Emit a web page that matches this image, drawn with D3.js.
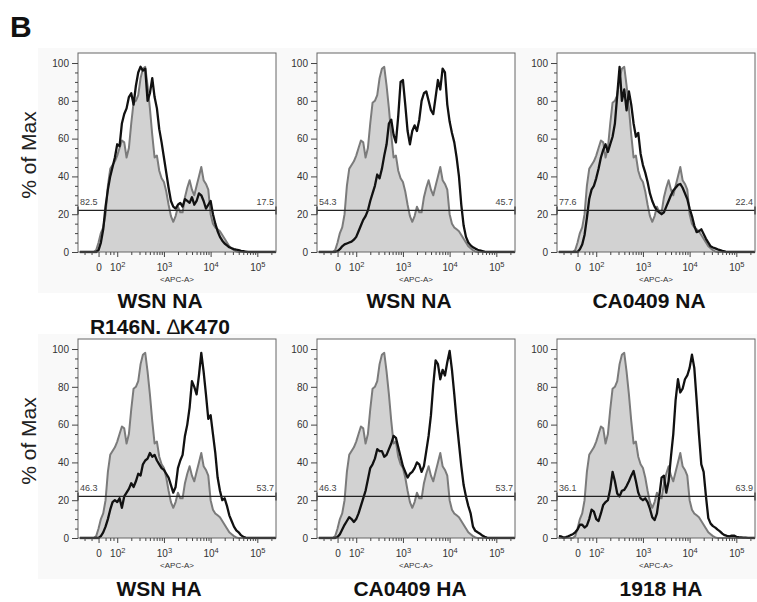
<!DOCTYPE html>
<html>
<head>
<meta charset="utf-8">
<script src="https://cdn.jsdelivr.net/npm/d3@7"></script>
<style>
  body { margin: 0; background: #fff; }
  text { font-family: "Liberation Sans", Arial, sans-serif; }
</style>
</head>
<body>
<div id="chart"></div>
<script>
// APC-A position on the biexponential display, in decades (1.6 = 0, 2 = 10^2, 3 = 10^3 ...)
const channels = [
  1.2, 1.25, 1.3, 1.35, 1.4, 1.45, 1.5, 1.55, 1.6, 1.65,
  1.7, 1.75, 1.8, 1.85, 1.9, 1.95, 2, 2.05, 2.1, 2.15,
  2.2, 2.25, 2.3, 2.35, 2.4, 2.45, 2.5, 2.55, 2.6, 2.65,
  2.7, 2.75, 2.8, 2.85, 2.9, 2.95, 3, 3.05, 3.1, 3.15,
  3.2, 3.25, 3.3, 3.35, 3.4, 3.45, 3.5, 3.55, 3.6, 3.65,
  3.7, 3.75, 3.8, 3.85, 3.9, 3.95, 4, 4.05, 4.1, 4.15,
  4.2, 4.25, 4.3, 4.35, 4.4, 4.45, 4.5, 4.55, 4.6, 4.65,
  4.7, 4.75, 4.8, 4.85, 4.9, 4.95, 5, 5.05, 5.1, 5.15,
  5.2, 5.25, 5.3, 5.35, 5.4
];

// % of max, control (grey filled) - same in every panel
const control = [
  0, 0, 0, 0, 0, 0, 0, 1, 5, 10,
  13, 20, 35, 44, 46, 48, 51, 55, 59, 58,
  50, 55, 68, 79, 80, 83, 92, 97, 98, 88,
  76, 62, 50, 51, 43, 39, 37, 32, 25, 19,
  16, 19, 24, 21, 21, 29, 34, 38, 33, 30,
  35, 40, 45, 38, 36, 33, 20, 15, 13, 12,
  11, 9, 7, 5, 3, 2, 1, 0.3, 0, 0,
  0, 0, 0, 0, 0, 0, 0, 0, 0, 0,
  0, 0, 0, 0, 0
];

const wsnNaMutant = [
  0, 0, 0, 0, 0, 0, 0, 0, 1, 5,
  12, 24, 33, 40, 45, 50, 57, 56, 68, 73,
  76, 82, 84, 78, 88, 95, 98, 96, 97, 80,
  84, 92, 82, 76, 65, 58, 50, 42, 34, 27,
  24, 23, 25, 26, 24, 28, 27, 26, 29, 25,
  27, 31, 30, 27, 23, 25, 27, 20, 15, 11,
  8, 6, 4.5, 3.5, 2.5, 2, 1.5, 1.2, 1, 0.6,
  0.4, 0.2, 0, 0, 0, 0, 0, 0, 0, 0,
  0, 0, 0, 0, 0
];

const wsnNa = [
  0, 0, 0, 0, 0, 0, 0, 0, 0.5, 1.5,
  3, 4, 4.5, 5, 5.5, 6.5, 8, 11, 14, 17,
  19, 22, 27, 31, 35, 41, 39, 44, 51, 57,
  68, 70, 62, 58, 72, 90, 91, 78, 64, 57,
  64, 67, 64, 70, 80, 84, 85, 80, 75, 73,
  82, 91, 86, 97, 95, 78, 69, 63, 58, 50,
  40, 25, 14, 8, 5, 3.5, 2.5, 1.8, 1.2, 0.8,
  0.5, 0.2, 0, 0, 0, 0, 0, 0, 0, 0,
  0, 0, 0, 0, 0
];

const ca0409Na = [
  0, 0, 0, 0, 0, 0, 0, 0, 0, 1.5,
  4, 9, 18, 28, 33, 35, 39, 44, 50, 54,
  57, 53, 57, 61, 68, 83, 98, 80, 86, 75,
  85, 78, 68, 61, 63, 52, 46, 42, 37, 31,
  27, 24, 22, 21, 20, 21, 24, 27, 30, 32.5,
  34, 35.5, 36, 34, 31, 28, 23, 19, 14, 10.5,
  11, 12, 9.5, 7, 5, 3, 2.4, 1.9, 1.4, 1,
  0.6, 0.3, 0, 0, 0, 0, 0, 0, 0, 0,
  0, 0, 0, 0, 0
];

const wsnHa = [
  0, 0, 0, 0, 0, 0, 0, 0, 0, 1,
  3, 6, 10, 15, 19, 20, 19, 21, 16, 22,
  24, 26, 29, 27, 30, 34, 33, 39, 41, 42,
  45, 43, 44, 41, 39, 37, 36, 34, 32, 28,
  24, 27, 37, 41, 44, 54, 60, 69, 83, 80,
  76, 86, 98, 88, 76, 63, 65, 55, 45, 32,
  25, 20, 21, 17, 12, 9, 6, 4, 3, 1.5,
  0.6, 0.2, 0, 0, 0, 0, 0, 0, 0, 0,
  0, 0, 0, 0, 0
];

const ca0409Ha = [
  0, 0, 0, 0, 0, 0, 0, 0, 0.5, 2,
  4.5, 7, 9, 11, 10, 8.5, 10, 13, 17, 21,
  25, 31, 37, 39, 42, 47, 46, 46, 43, 44,
  47, 50, 54, 53, 48, 43, 38, 35, 32, 34,
  35, 37, 40, 39, 35, 38, 46, 54, 65, 81,
  94, 92, 84, 89, 86, 93, 99, 89, 76, 62,
  50, 38, 28, 22, 17, 13, 6, 3.8, 3, 2.3,
  1.3, 0.6, 0.2, 0, 0, 0, 0, 0, 0, 0,
  0, 0, 0, 0, 0
];

const ha1918 = [
  1, 0.8, 0.2, 0.5, 0.9, 1.5, 2, 3, 4.5, 7,
  7, 5.5, 6.5, 10, 15, 14, 10, 9, 13, 17.5,
  19, 20, 26, 35, 30, 23.5, 22, 25, 25.5, 27.5,
  30, 33, 35.5, 30, 24, 21, 20, 21, 19, 15.5,
  11, 9.5, 13, 22, 32, 33, 24, 30, 43, 55,
  73, 84, 77, 79, 84, 86, 90, 97, 90, 73,
  55, 39, 35, 22, 10.5, 7.6, 6.3, 5.5, 4.4, 3.5,
  2.3, 1.5, 1.1, 0.9, 1.2, 1.3, 0.6, 0.4, 0.3, 0.2,
  0.2, 0.1, 0.1, 0, 0
];

const samples = [wsnNaMutant, wsnNa, ca0409Na, wsnHa, ca0409Ha, ha1918];
// second line of the first title has a thin delta, drawn in regular weight
const titles = [['WSN NA', ['R146N, ', '\u2206', 'K470']], ['WSN NA'], ['CA0409 NA'], ['WSN HA'], ['CA0409 HA'], ['1918 HA']];
const gateLow = ['82.5', '54.3', '77.6', '46.3', '46.3', '36.1'];
const gateHigh = ['17.5', '45.7', '22.4', '53.7', '53.7', '63.9'];
const gateLevel = 22;

const xTickValues = [1.6, 2, 3, 4, 5];
const xTickBase = ['0', '10', '10', '10', '10'];
const xTickExp = ['', '2', '3', '4', '5'];
const xLinearMinor = [1.3, 1.45, 1.75, 1.85, 1.92];
const yTickValues = [0, 20, 40, 60, 80, 100];

const width = 757, height = 602;
const panelW = 198, panelH = 199;
const colX = [78, 317, 557];
const rowY = [53, 339];
const titleX = [[160, 409, 649], [159, 410, 661]];
const titleY = [308, 596];
const font = '"Liberation Sans", Arial, sans-serif';

const svg = d3.select('#chart').append('svg')
  .attr('width', width)
  .attr('height', height);

svg.append('defs').append('clipPath').attr('id', 'plot-clip')
  .append('rect').attr('y', -2).attr('width', panelW).attr('height', panelH + 3.5);

const x = d3.scaleLinear().domain([1.16, 5.4]).range([0, panelW]);
const y = d3.scaleLinear().domain([0, 105.3]).range([panelH, 0]);

// log minor ticks 2..9 x 10^k
const xLogMinor = [];
[2, 3, 4].forEach(k => d3.range(2, 10).forEach(m => xLogMinor.push(k + Math.log10(m))));
xLogMinor.push(5 + Math.log10(2));
const xMinor = xLinearMinor.concat(xLogMinor);
const yMinor = d3.range(0, 105, 5).filter(v => v % 20 !== 0);

const area = d3.area()
  .x((d, i) => x(channels[i]))
  .y0(y(0))
  .y1(d => y(d));
const line = d3.line()
  .x((d, i) => x(channels[i]))
  .y(d => y(d));

svg.append('text')
  .attr('x', 10).attr('y', 37)
  .attr('font-size', 30).attr('font-weight', 'bold')
  .attr('fill', '#111')
  .text('B');

samples.forEach((sample, i) => {
  const col = i % 3, row = Math.floor(i / 3);
  const g = svg.append('g').attr('transform', `translate(${colX[col]},${rowY[row]})`);

  // faint cell background, white plot area
  g.append('rect').attr('x', -40).attr('y', -5).attr('width', 240).attr('height', 245).attr('fill', '#f9f9f9');
  g.append('rect').attr('width', panelW).attr('height', panelH).attr('fill', '#fff');

  const plot = g.append('g').attr('clip-path', 'url(#plot-clip)');
  plot.append('path').datum(control)
    .attr('d', area)
    .attr('fill', '#d2d2d2');
  plot.append('path').datum(control)
    .attr('d', line)
    .attr('fill', 'none')
    .attr('stroke', '#7b7b7b')
    .attr('stroke-width', 2)
    .attr('stroke-linejoin', 'round');
  plot.append('path').datum(sample)
    .attr('d', line)
    .attr('fill', 'none')
    .attr('stroke', '#111')
    .attr('stroke-width', 2.3)
    .attr('stroke-linejoin', 'round');

  // gate
  const gy = y(gateLevel);
  g.append('line').attr('x1', 0).attr('x2', panelW).attr('y1', gy).attr('y2', gy)
    .attr('stroke', '#222').attr('stroke-width', 1.4);
  [0, panelW].forEach(px => g.append('line')
    .attr('x1', px).attr('x2', px).attr('y1', gy - 4).attr('y2', gy + 4)
    .attr('stroke', '#222').attr('stroke-width', 1.4));
  g.append('text').attr('x', 2).attr('y', gy - 5)
    .attr('font-size', 9).attr('fill', '#444').text(gateLow[i]);
  g.append('text').attr('x', panelW - 2).attr('y', gy - 5)
    .attr('text-anchor', 'end')
    .attr('font-size', 9).attr('fill', '#444').text(gateHigh[i]);

  g.append('rect').attr('width', panelW).attr('height', panelH)
    .attr('fill', 'none').attr('stroke', '#666').attr('stroke-width', 1);

  // x axis
  const xa = g.append('g').attr('transform', `translate(0,${panelH})`)
    .call(d3.axisBottom(x).tickValues(xTickValues).tickSize(5).tickFormat(''));
  xa.select('.domain').remove();
  xa.selectAll('.tick line').attr('stroke', '#444');
  xa.selectAll('.tick text').each(function(d, j) {
    const t = d3.select(this)
      .attr('y', 19).attr('dy', null)
      .attr('font-size', 10).attr('fill', '#333')
      .attr('font-family', font);
    t.append('tspan').text(xTickBase[j]);
    if (xTickExp[j]) t.append('tspan').attr('dy', -4.5).attr('font-size', 7.5).text(xTickExp[j]);
  });
  const xm = g.append('g').attr('transform', `translate(0,${panelH})`)
    .call(d3.axisBottom(x).tickValues(xMinor).tickSize(3).tickFormat(''));
  xm.select('.domain').remove();
  xm.selectAll('.tick line').attr('stroke', '#444');

  g.append('text').attr('x', panelW / 2).attr('y', panelH + 30)
    .attr('text-anchor', 'middle').attr('font-size', 8).attr('fill', '#333')
    .text('<APC-A>');

  // y axis
  const ya = g.append('g')
    .call(d3.axisLeft(y).tickValues(yTickValues).tickSize(6).tickPadding(3));
  ya.select('.domain').remove();
  ya.selectAll('.tick line').attr('stroke', '#444');
  ya.selectAll('.tick text')
    .attr('font-size', 10).attr('fill', '#333')
    .attr('font-family', font);
  const ym = g.append('g')
    .call(d3.axisLeft(y).tickValues(yMinor).tickSize(3).tickFormat(''));
  ym.select('.domain').remove();
  ym.selectAll('.tick line').attr('stroke', '#444');

  if (col === 0) {
    svg.append('text')
      .attr('transform', `translate(36,${rowY[row] + 102}) rotate(-90)`)
      .attr('text-anchor', 'middle')
      .attr('font-size', 21).attr('fill', '#222')
      .text('% of Max');
  }

  titles[i].forEach((t, k) => {
    const tx = svg.append('text')
      .attr('x', titleX[row][col]).attr('y', titleY[row] + k * 26)
      .attr('text-anchor', 'middle')
      .attr('font-size', 21).attr('font-weight', 'bold').attr('fill', '#111');
    if (Array.isArray(t)) {
      t.forEach((part, p) => tx.append('tspan')
        .attr('font-weight', p === 1 ? 'normal' : 'bold')
        .text(part));
    } else {
      tx.text(t);
    }
  });
});
</script>
</body>
</html>
